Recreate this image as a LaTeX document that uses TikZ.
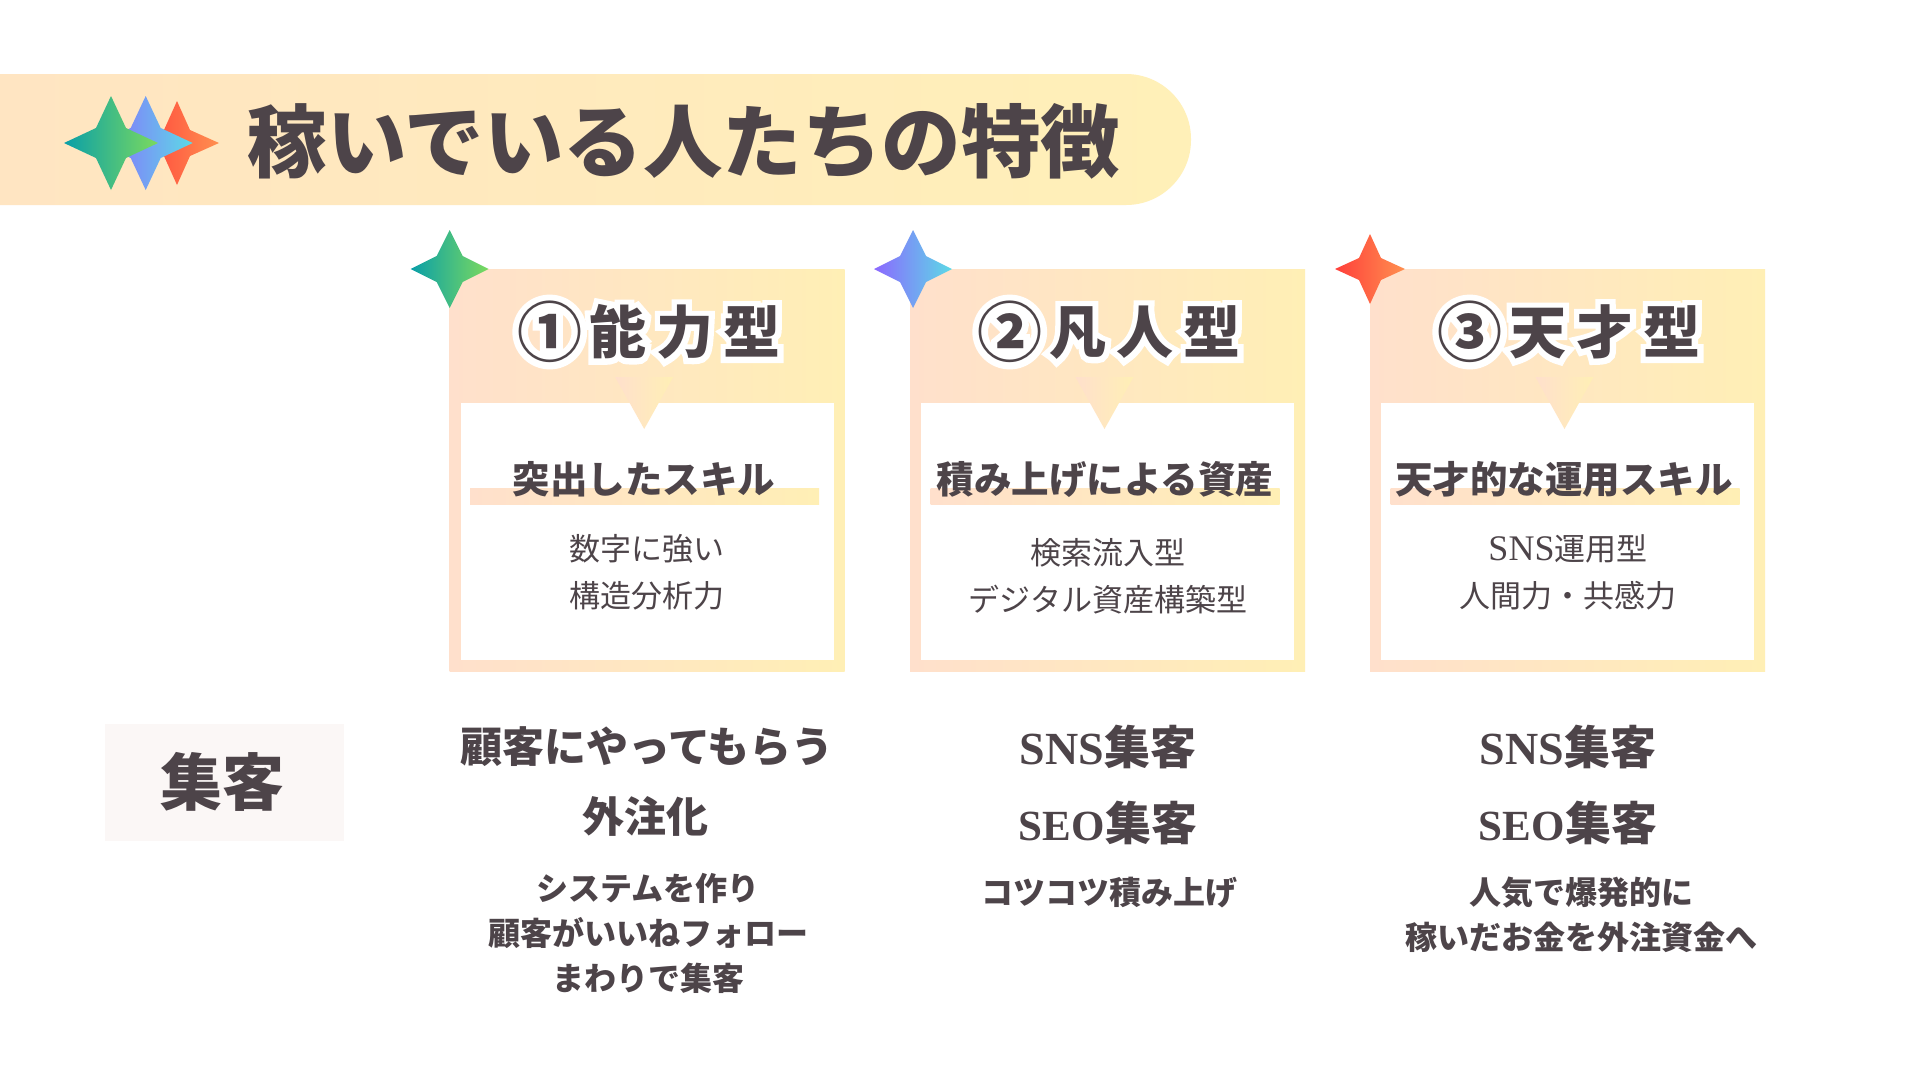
\documentclass[tikz,border=0pt]{standalone}
\usepackage{fontspec}
\setmainfont{Noto Sans CJK JP}
\newfontfamily\lserif{Liberation Serif}
\newfontfamily\headfont[LetterSpace=18]{Noto Sans CJK JP}
\newfontfamily\halofont[LetterSpace=18,BoldFeatures={FakeBold=20}]{Noto Sans CJK JP}
\definecolor{ink}{HTML}{4D4449}
\definecolor{gradL}{HTML}{FFE0CC}
\definecolor{gradR}{HTML}{FFEFB5}
\definecolor{banL}{HTML}{FFE5C2}
\definecolor{banR}{HTML}{FFF0B8}
\definecolor{tagbg}{HTML}{FBF7F6}
\definecolor{gA}{HTML}{0A9FA8}\definecolor{gB}{HTML}{3DB98A}\definecolor{gC}{HTML}{7BDA5E}
\definecolor{bA}{HTML}{8C68FF}\definecolor{bB}{HTML}{6FA0F0}\definecolor{bC}{HTML}{5CDAE6}
\definecolor{rA}{HTML}{FF3F3A}\definecolor{rB}{HTML}{FF6240}\definecolor{rC}{HTML}{FF9050}
\newcommand{\fs}[2]{\fontsize{#1}{#2}\selectfont}
\newcommand{\bignum}[1]{\raisebox{-3pt}{\fontsize{65}{56}\selectfont #1}\hspace{7pt}}
\tikzset{
  warm/.style={left color=gradL,right color=gradR,draw=none},
  banner/.style={left color=banL,right color=banR,draw=none},
  txt/.style={text=ink,inner sep=0pt,align=center},
  title/.style={txt,font=\fs{79.5}{79.5}\bfseries},
  head/.style={txt,font=\fs{57}{57}\headfont\bfseries},
  halo/.style={inner sep=0pt,text=white,font=\fs{57}{57}\halofont\bfseries},
  subh/.style={txt,font=\fs{37.5}{37.5}\bfseries},
  bodyt/.style={txt,font=\fs{31}{47}},
  big/.style={txt,font=\fs{42}{42}\bfseries},
  mixed/.style={txt,font=\fs{46}{46}\bfseries},
  small/.style={txt,font=\fs{32}{45}\bfseries},
  green/.style={left color=gA,middle color=gB,right color=gC,draw=none},
  blue/.style={left color=bA,middle color=bB,right color=bC,draw=none},
  red/.style={left color=rA,middle color=rB,right color=rC,draw=none},
}
% star: style, cx, cy, half extent, inner offset
\newcommand{\starshape}[5]{\path[#1] (#2-#4,#3) -- (#2-#5,#3-#5) -- (#2,#3-#4) -- (#2+#5,#3-#5) -- (#2+#4,#3) -- (#2+#5,#3+#5) -- (#2,#3+#4) -- (#2-#5,#3+#5) -- cycle;}
% card frame: left x
\newcommand{\cardframe}[2]{%
  \path[warm] (#1,269) rectangle (#1+395,671);
  \path[fill=white] (#1+11,403) rectangle (#1+384,660);
  \path[warm] (#1+165.5,377) -- (#1+223.5,377) -- (#1+194.5,429) -- cycle;
  \path[warm] (#1+20.5,488) rectangle (#1+369.5,504);
}
\begin{document}
\begin{tikzpicture}[x=1pt,y=-1pt]
\useasboundingbox[fill=white] (0,0) rectangle (1920,1080);
% banner
\path[banner] (0,74) -- (1126,74) arc[start angle=90,end angle=0,x radius=65,y radius=-65] -- (1191,140) arc[start angle=0,end angle=-90,x radius=65,y radius=-65] -- (0,205) -- cycle;
\starshape{red}{177}{143}{42}{13}
\starshape{blue}{145.7}{143}{47}{15}
\starshape{green}{111}{143}{47}{15}
\node[title] (title) at (684,141) {稼いでいる人たちの特徴};
% cards
\cardframe{449.7}{1}
\cardframe{910}{2}
\cardframe{1370}{3}
\starshape{green}{449.7}{269}{39}{13}
\starshape{blue}{913}{269}{39}{13}
\starshape{red}{1370}{269}{35}{11}
% headings
\node[halo] (h1h) at (649,332) {\bignum{①}能力型};
\node[head] (h1) at (649,332) {\bignum{①}能力型};
\node[halo] (h2h) at (1109,332) {\bignum{②}凡人型};
\node[head] (h2) at (1109,332) {\bignum{②}凡人型};
\node[halo] (h3h) at (1569,332) {\bignum{③}天才型};
\node[head] (h3) at (1569,332) {\bignum{③}天才型};
% sub headings
\node[subh] (s1) at (644,479) {突出したスキル};
\node[subh] (s2) at (1105,479) {積み上げによる資産};
\node[subh] (s3) at (1564,479) {天才的な運用スキル};
% body
\node[bodyt] (b1) at (647,572) {数字に強い\\構造分析力};
\node[bodyt] (b2) at (1108,576) {検索流入型\\デジタル資産構築型};
\node[bodyt] (b3) at (1568,572) {{\lserif\fontsize{36}{47}\selectfont SNS}運用型\\人間力・共感力};
% row label
\path[fill=tagbg] (105,724) rectangle (344,841);
\node[txt,font=\fs{62}{62}\bfseries] (tag) at (222,782) {集客};
% column 1
\node[big] (c1a) at (647,747) {顧客にやってもらう};
\node[big] (c1b) at (645,816) {外注化};
\node[small] (c1c) at (648,933) {システムを作り\\顧客がいいねフォロー\\まわりで集客};
% column 2
\node[mixed] (c2a) at (1108,747) {{\lserif SNS}集客};
\node[mixed] (c2b) at (1108,823) {{\lserif\fontsize{43}{46}\selectfont SEO}集客};
\node[small] (c2c) at (1109,893) {コツコツ積み上げ};
% column 3
\node[mixed] (c3a) at (1568,747) {{\lserif SNS}集客};
\node[mixed] (c3b) at (1568,823) {{\lserif\fontsize{43}{46}\selectfont SEO}集客};
\node[small] (c3c) at (1581,915) {人気で爆発的に\\稼いだお金を外注資金へ};
\end{tikzpicture}
\end{document}
